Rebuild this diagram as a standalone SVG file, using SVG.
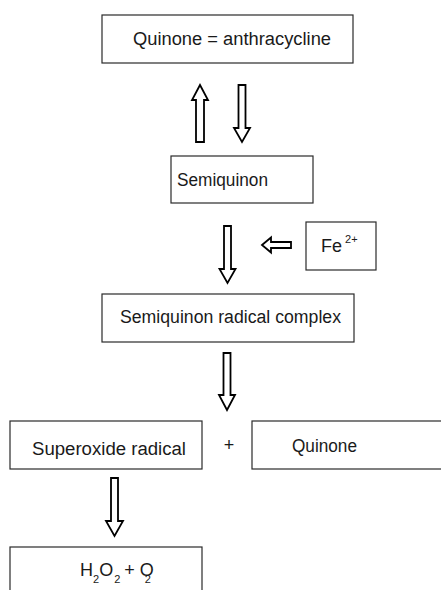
<svg xmlns="http://www.w3.org/2000/svg" width="441" height="590" viewBox="0 0 441 590">
<style>
.box{fill:#fff;stroke:#2a2a2a;stroke-width:1.2}
.arr{fill:#fff;stroke:#000;stroke-width:1.8;stroke-linejoin:miter}
text{font-family:"Liberation Sans",Arial,sans-serif;font-size:18px;fill:#1a1a1a}
.sm{font-size:11px}
</style>
<rect width="441" height="590" fill="#fff"/>
<g id="connectors">
<polygon class="arr" points="200,85 208,100 204,100 204,142 196,142 196,100 192,100"/>
<polygon class="arr" points="238.5,85 245.5,85 245.5,128 250,128 242,142 234,128 238.5,128"/>
<polygon class="arr" points="224,226 231,226 231,269 235.5,269 227.5,283 219.5,269 224,269"/>
<polygon class="arr" points="262,245 271,237.5 271,242 291,242 291,248 271,248 271,252.5"/>
<polygon class="arr" points="223.5,353 230.5,353 230.5,395 235,395 227,410 219,395 223.5,395"/>
<polygon class="arr" points="111,478 118,478 118,521 123,521 114.5,536 106,521 111,521"/>
</g>
<g id="quinone-anthracycline"><rect class="box" x="102" y="15" width="251" height="48"/><text x="133" y="45" textLength="198" lengthAdjust="spacingAndGlyphs">Quinone = anthracycline</text></g>
<g id="semiquinon"><rect class="box" x="171" y="156" width="142" height="47"/><text x="177" y="186" textLength="91" lengthAdjust="spacingAndGlyphs">Semiquinon</text></g>
<g id="fe"><rect class="box" x="306" y="222" width="70" height="48"/><text x="321" y="252">Fe<tspan class="sm" dx="3" dy="-9">2+</tspan></text></g>
<g id="radical-complex"><rect class="box" x="102" y="294" width="252" height="48"/><text x="120" y="323" textLength="221" lengthAdjust="spacingAndGlyphs">Semiquinon radical complex</text></g>
<g id="superoxide"><rect class="box" x="10" y="421" width="192" height="48"/><text x="32" y="455" textLength="154" lengthAdjust="spacingAndGlyphs">Superoxide radical</text></g>
<g id="plus"><text x="229" y="451" text-anchor="middle">+</text></g>
<g id="quinone"><rect class="box" x="252" y="421" width="200" height="48"/><text x="292" y="452" textLength="65" lengthAdjust="spacingAndGlyphs">Quinone</text></g>
<g id="h2o2"><rect class="box" x="10" y="547" width="192" height="60"/><text x="80" y="576">H<tspan class="sm" dy="7">2</tspan><tspan dy="-7">O</tspan><tspan class="sm" dx="1" dy="7">2</tspan><tspan dx="4" dy="-7">+ O</tspan><tspan class="sm" dx="-9" dy="7">2</tspan></text></g>
</svg>
